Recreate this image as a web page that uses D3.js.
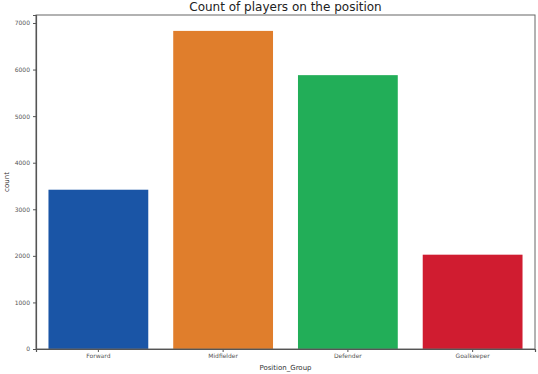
<!DOCTYPE html>
<html>
<head>
<meta charset="utf-8">
<script src="https://cdn.jsdelivr.net/npm/d3@7"></script>
<style>
  body { margin: 0; background: #fff; }
  text { font-family: "DejaVu Sans", sans-serif; }
</style>
</head>
<body>
<div id="chart"></div>
<script>
var positions = ['Forward', 'Midfielder', 'Defender', 'Goalkeeper'];
var counts = [3420, 6830, 5880, 2025];
var barColors = ['#1a55a6', '#e07e2c', '#22ae58', '#d01c30'];
var yTicks = [0, 1000, 2000, 3000, 4000, 5000, 6000, 7000];

var width = 538, height = 374;
var margin = { top: 15, right: 3, bottom: 25, left: 36 };

var svg = d3.select('#chart').append('svg')
    .attr('width', width)
    .attr('height', height);

var x = d3.scaleBand()
    .domain(positions)
    .range([margin.left, width - margin.right])
    .paddingInner(0.2)
    .paddingOuter(0.1);

var y = d3.scaleLinear()
    .domain([0, d3.max(counts) * 1.05])
    .range([height - margin.bottom, margin.top]);

// bars
svg.append('g').selectAll('rect')
    .data(positions)
    .enter().append('rect')
    .attr('x', function (d) { return x(d); })
    .attr('y', function (d, i) { return y(counts[i]); })
    .attr('width', x.bandwidth())
    .attr('height', function (d, i) { return y(0) - y(counts[i]); })
    .attr('fill', function (d, i) { return barColors[i]; });

// frame
svg.append('rect')
    .attr('x', margin.left)
    .attr('y', margin.top)
    .attr('width', width - margin.left - margin.right)
    .attr('height', height - margin.top - margin.bottom)
    .attr('fill', 'none')
    .attr('stroke', '#666')
    .attr('stroke-width', 1);

var yAxis = svg.append('g')
    .attr('transform', 'translate(' + margin.left + ',0)')
    .call(d3.axisLeft(y).tickValues(yTicks).tickSize(3).tickPadding(3).tickFormat(d3.format('d')));

var xAxis = svg.append('g')
    .attr('transform', 'translate(0,' + (height - margin.bottom) + ')')
    .call(d3.axisBottom(x).tickSize(3).tickPadding(2));

[xAxis, yAxis].forEach(function (a) {
    a.select('.domain').attr('stroke', '#555').attr('stroke-width', 1.2);
    a.selectAll('.tick line').attr('stroke', '#555');
    a.selectAll('.tick text').attr('fill', '#555').style('font-size', '6px');
});

svg.append('text')
    .attr('x', (margin.left + width - margin.right) / 2)
    .attr('y', 11)
    .attr('text-anchor', 'middle')
    .style('font-size', '12px')
    .attr('fill', '#222')
    .text('Count of players on the position');

svg.append('text')
    .attr('x', (margin.left + width - margin.right) / 2)
    .attr('y', 370)
    .attr('text-anchor', 'middle')
    .style('font-size', '7px')
    .attr('fill', '#333')
    .text('Position_Group');

svg.append('text')
    .attr('transform', 'translate(9,' + ((margin.top + height - margin.bottom) / 2) + ') rotate(-90)')
    .attr('text-anchor', 'middle')
    .style('font-size', '7px')
    .attr('fill', '#333')
    .text('count');
</script>
</body>
</html>
